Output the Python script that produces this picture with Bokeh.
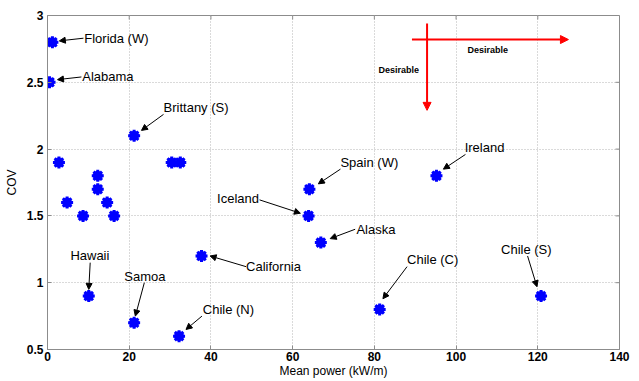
from bokeh.plotting import figure
from bokeh.models import (Arrow, NormalHead, FixedTicker, ColumnDataSource, Range1d)
from bokeh.core.properties import value
from bokeh.embed import file_html
from bokeh.resources import INLINE

# ---- data ----
mean_power = [1.2, 0.5, 21.2, 2.8, 12.3, 12.3, 30.4, 32.5, 4.8, 8.7, 14.6, 16.3,
              10.1, 21.2, 32.2, 37.7, 64.1, 63.9, 66.9, 81.3, 95.2, 120.8]
cov = [2.8, 2.5, 2.1, 1.9, 1.8, 1.7, 1.9, 1.9, 1.6, 1.5, 1.6, 1.5,
       0.9, 0.7, 0.6, 1.2, 1.7, 1.5, 1.3, 0.8, 1.8, 0.9]

label_names = ["Florida (W)", "Alabama", "Brittany (S)", "Hawaii", "Samoa", "Chile (N)",
               "California", "Iceland", "Alaska", "Spain (W)", "Ireland", "Chile (C)", "Chile (S)"]
# annotation text anchor (left, middle) in data units
label_x = [9.0, 8.5, 28.4, 5.6, 18.8, 38.0, 48.6, 41.5, 75.6, 71.7, 102.1, 88.0, 111.0]
label_y = [2.83, 2.54, 2.31, 1.20, 1.05, 0.80, 1.12, 1.63, 1.40, 1.90, 2.01, 1.17, 1.25]
# arrow tails and heads
arrow_x0 = [8.8, 8.3, 28.4, 10.45, 23.7, 37.8, 48.6, 51.9, 75.3, 71.7, 102.3, 88.0, 117.5]
arrow_y0 = [2.83, 2.54, 2.26, 1.15, 1.00, 0.75, 1.12, 1.62, 1.40, 1.85, 1.96, 1.12, 1.20]
arrow_x1 = [2.9, 2.45, 23.0, 10.1, 21.5, 33.9, 39.8, 61.9, 69.2, 66.3, 96.9, 82.1, 119.8]
arrow_y1 = [2.81, 2.52, 2.14, 0.95, 0.75, 0.65, 1.20, 1.52, 1.33, 1.74, 1.85, 0.88, 0.97]

x_ticks = [0, 20, 40, 60, 80, 100, 120, 140]
y_ticks = [0.5, 1, 1.5, 2, 2.5, 3]
y_tick_labels = {0.5: "0.5", 1: "1", 1.5: "1.5", 2: "2", 2.5: "2.5", 3: "3"}

FONT = "Liberation Sans"
GRAY = "#8c8c8c"
X0, X1, Y0, Y1 = 0, 140, 0.5, 3

p = figure(width=639, height=381, output_backend="svg", toolbar_location=None,
           x_range=Range1d(X0, X1), y_range=Range1d(Y0, Y1),
           min_border_left=47, min_border_right=20, min_border_top=15, min_border_bottom=32)
p.background_fill_color = "white"
p.border_fill_color = "white"
p.outline_line_color = GRAY

for ax, ticks in ((p.xaxis[0], x_ticks), (p.yaxis[0], y_ticks)):
    ax.ticker = FixedTicker(ticks=ticks)
    ax.major_tick_in = 4
    ax.major_tick_out = 0
    ax.minor_tick_line_color = None
    ax.axis_line_color = GRAY
    ax.major_tick_line_color = GRAY
    ax.major_label_text_font = FONT
    ax.major_label_text_font_size = "12px"
    ax.major_label_text_font_style = "bold"
    ax.major_label_text_color = "black"
    ax.axis_label_text_font = FONT
    ax.axis_label_text_font_size = "12px"
    ax.axis_label_text_font_style = "normal"
    ax.axis_label_text_color = "black"

p.yaxis[0].major_label_overrides = y_tick_labels
p.xaxis[0].axis_label = "Mean power (kW/m)"
p.yaxis[0].axis_label = "COV"
p.xaxis[0].major_label_standoff = 2
p.xaxis[0].axis_label_standoff = 0
p.yaxis[0].major_label_standoff = 4
p.yaxis[0].axis_label_standoff = 5

# mirrored inner ticks on top and right edges (MATLAB box style)
tick_dy = 4 / 133.6
tick_dx = 4 / 4.085
p.segment(x0=x_ticks, y0=[Y1] * len(x_ticks), x1=x_ticks, y1=[Y1 - tick_dy] * len(x_ticks),
          line_color=GRAY, line_width=1)
p.segment(x0=[X1] * len(y_ticks), y0=y_ticks, x1=[X1 - tick_dx] * len(y_ticks), y1=y_ticks,
          line_color=GRAY, line_width=1)

p.xgrid.ticker = FixedTicker(ticks=x_ticks)
p.ygrid.ticker = FixedTicker(ticks=y_ticks)
p.grid.grid_line_color = "#b4b4b4"
p.grid.grid_line_dash = "1 2"
p.grid.grid_line_width = 1

src = ColumnDataSource(dict(x=mean_power, y=cov))
p.scatter("x", "y", source=src, marker="circle", size=9, fill_color="#0000ff", line_color="#0000ff")
p.scatter("x", "y", source=src, marker="asterisk", size=12, line_color="#0000ff", line_width=3)

# annotation arrows
for x0, y0, x1, y1 in zip(arrow_x0, arrow_y0, arrow_x1, arrow_y1):
    p.add_layout(Arrow(end=NormalHead(size=6, fill_color="black", line_color="black", line_width=1),
                       x_start=x0, y_start=y0, x_end=x1, y_end=y1,
                       line_color="black", line_width=1))

p.text(x=label_x, y=label_y, text=label_names, text_font=value(FONT), text_font_size="13px",
       text_align="left", text_baseline="middle", text_color="black")

# "Desirable" red arrows
p.add_layout(Arrow(end=NormalHead(size=8, fill_color="red", line_color="red"),
                   x_start=89.2, y_start=2.82, x_end=127.5, y_end=2.82,
                   line_color="red", line_width=2))
p.add_layout(Arrow(end=NormalHead(size=8, fill_color="red", line_color="red"),
                   x_start=92.9, y_start=2.94, x_end=92.9, y_end=2.29,
                   line_color="red", line_width=2))
p.text(x=[102.8, 81.0], y=[2.74, 2.59], text=["Desirable", "Desirable"],
       text_font=value(FONT), text_font_size="9px", text_font_style="bold",
       text_align="left", text_baseline="middle", text_color="black")

open("out.html", "w").write(file_html(p, INLINE))
